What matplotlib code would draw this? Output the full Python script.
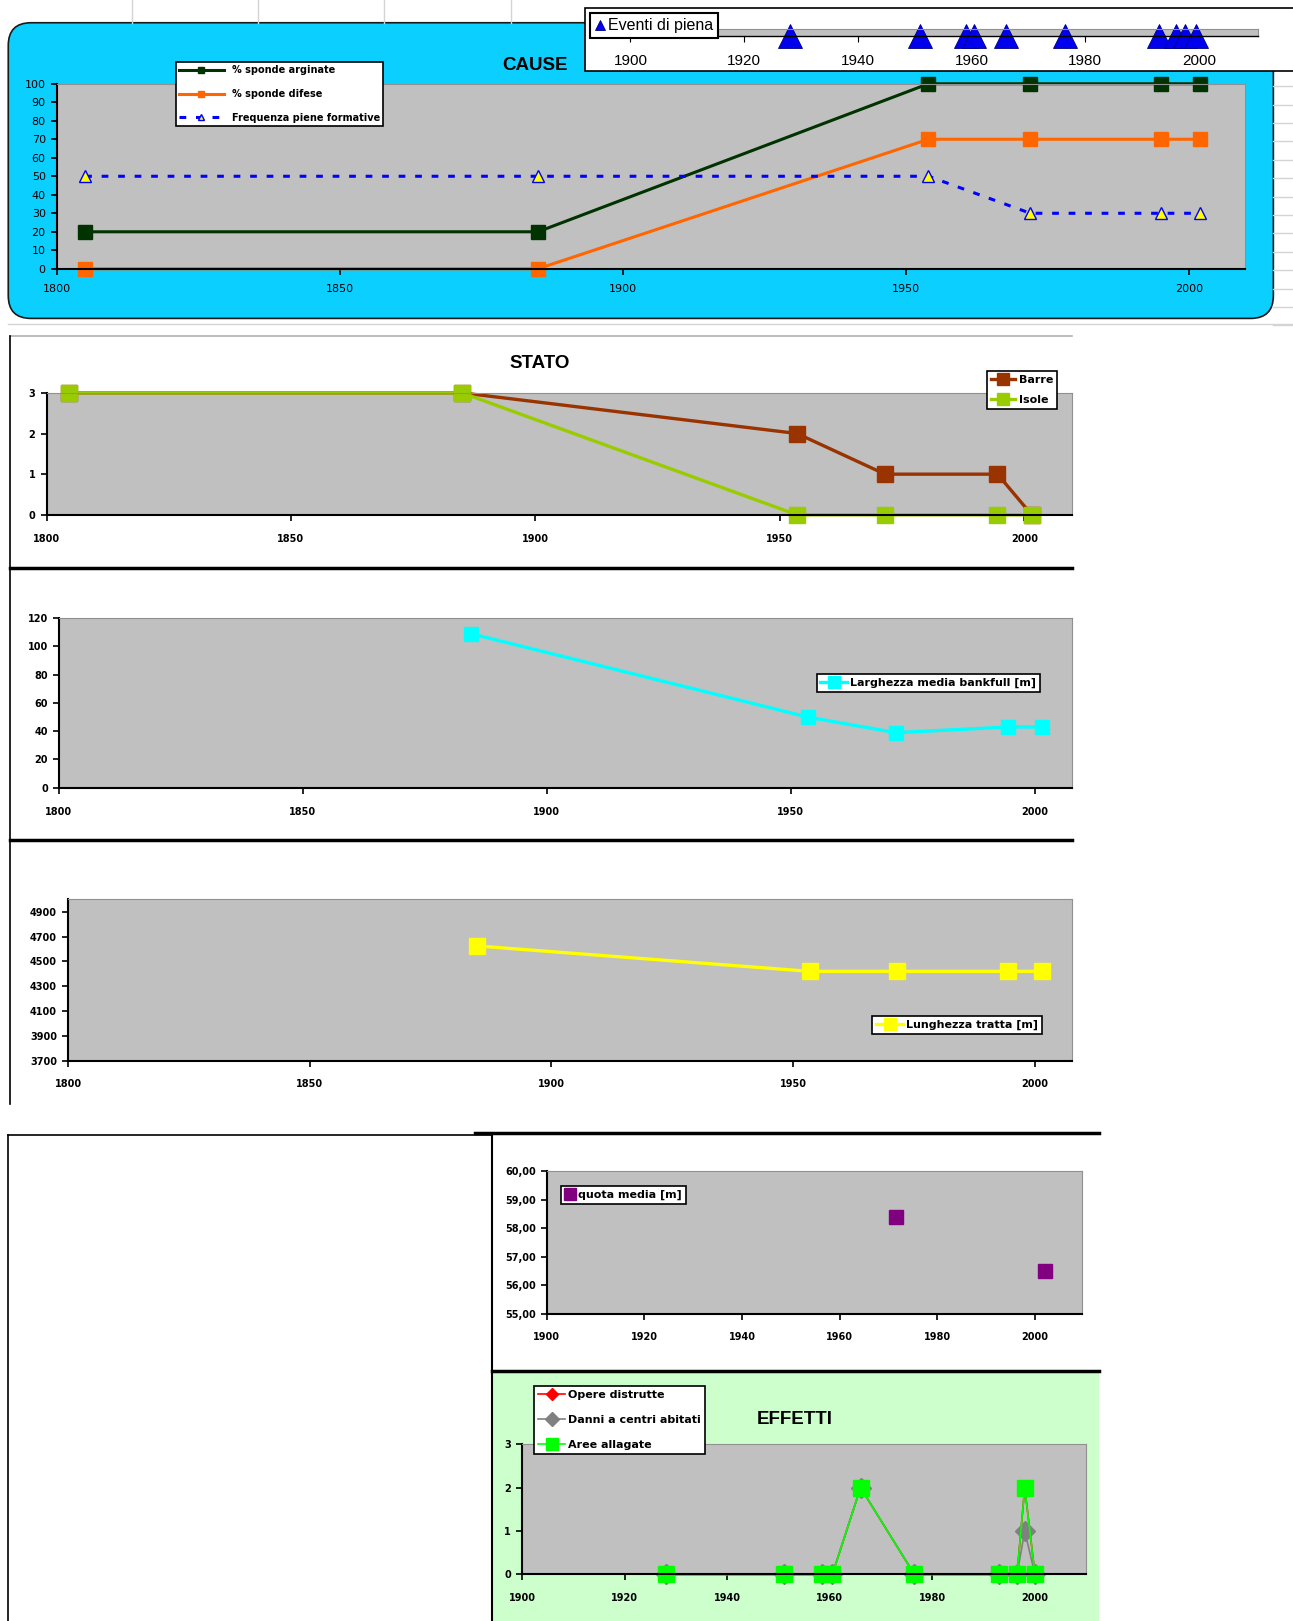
import numpy as np
import matplotlib
matplotlib.use('Agg')
import matplotlib.pyplot as plt
from matplotlib.patches import FancyBboxPatch, Rectangle
from matplotlib.ticker import FuncFormatter

# --- dati CAUSE ---
anni_cause = [1805, 1885, 1954, 1972, 1995, 2002]
sponde_arginate = [20, 20, 100, 100, 100, 100]
sponde_difese = [0, 0, 70, 70, 70, 70]
freq_piene = [50, 50, 50, 30, 30, 30]

# eventi di piena
anni_eventi = [1928, 1951, 1959, 1960.5, 1966, 1976.5, 1993, 1996, 1997.5, 1999.5]

# --- dati STATO ---
anni_stato = [1804.5, 1885, 1953.5, 1971.5, 1994.5, 2001.5]
barre = [3, 3, 2, 1, 1, 0]
isole = [3, 3, 0, 0, 0, 0]

anni_larg = [1884.5, 1953.5, 1971.5, 1994.5, 2001.5]
larghezza = [109, 50, 39, 43, 43]

anni_lung = [1884.5, 1953.5, 1971.5, 1994.5, 2001.5]
lunghezza = [4625, 4420, 4420, 4420, 4420]

anni_quota = [1971.5, 2002]
quota = [58.4, 56.5]

# --- dati EFFETTI ---
anni_eff = [1928, 1951, 1958.5, 1960.5, 1966, 1976.5, 1993, 1996.5, 1998, 2000]
opere = [0, 0, 0, 0, 2, 0, 0, 0, 2, 0]
danni = [0, 0, 0, 0, 2, 0, 0, 0, 1, 0]
aree = [0, 0, 0, 0, 2, 0, 0, 0, 2, 0]

W, H = 1251, 1568   # coordinate di riferimento (pixel)
GRIGIO = '#c0c0c0'
FT = 'DejaVu Sans'


def box(l, t, r, b):
    return [l / W, 1 - b / H, (r - l) / W, (b - t) / H]


def fig_pt(x, y):
    return (x / W, 1 - y / H)


def stile(ax, size=7, bold=True, xpad=9, ypad=4):
    ax.set_facecolor(GRIGIO)
    for s in ['top', 'right']:
        ax.spines[s].set_color('#909090')
        ax.spines[s].set_linewidth(0.8)
    for s in ['left', 'bottom']:
        ax.spines[s].set_color('black')
        ax.spines[s].set_linewidth(1.5)
    ax.tick_params(direction='out', length=4, width=1.2, labelsize=size)
    ax.tick_params(axis='x', pad=xpad)
    ax.tick_params(axis='y', pad=ypad)
    for lab in ax.get_xticklabels() + ax.get_yticklabels():
        lab.set_fontweight('bold' if bold else 'normal')
        lab.set_family(FT)


def legenda(ax, x, y, size=7, **kw):
    leg = ax.legend(loc='upper left', bbox_to_anchor=fig_pt(x, y),
                    bbox_transform=fig.transFigure, fancybox=False,
                    edgecolor='black', framealpha=1, borderpad=0.35,
                    borderaxespad=0, prop={'family': FT, 'weight': 'bold', 'size': size}, **kw)
    leg.get_frame().set_linewidth(1.2)
    return leg


fig = plt.figure(figsize=(12.93, 16.21), dpi=100)

# sfondo / cornici
bg = fig.add_axes([0, 0, 1, 1], zorder=0)
bg.set_xlim(0, W)
bg.set_ylim(H, 0)
bg.axis('off')

for x in [128, 250, 372, 494]:
    bg.plot([x, x], [0, 22], color='#d4d4d4', lw=1)
for y in np.arange(30, 320, 17.8):
    bg.plot([1232, W], [y, y], color='#d4d4d4', lw=1)
bg.plot([8, W], [313, 313], color='#d4d4d4', lw=1)

bg.add_patch(FancyBboxPatch((8, 22), 1224, 286, boxstyle='round,pad=0,rounding_size=22',
                            facecolor='#0acfff', edgecolor='#1a1a1a', lw=1.2, zorder=1))
bg.add_patch(Rectangle((566, 8), 700, 61, facecolor='white', edgecolor='black', lw=1.2, zorder=2))
bg.text(518, 63, 'CAUSE', ha='center', va='center', fontsize=13.5, fontweight='bold',
        family='Liberation Sans', zorder=3)

# pannello STATO
bg.plot([10, 1037], [325, 325], color='#b0b0b0', lw=1.2)
bg.plot([10, 10], [325, 1068], color='black', lw=1.2)
bg.plot([10, 1037], [549, 549], color='black', lw=2.5)
bg.plot([10, 1037], [813, 813], color='black', lw=2.5)
bg.text(522, 352, 'STATO', ha='center', va='center', fontsize=13.5, fontweight='bold',
        family='Liberation Sans')

# pannelli in basso
bg.plot([8, 476], [1098, 1098], color='black', lw=1.2)
bg.plot([8, 8], [1098, H], color='black', lw=1.2)
bg.plot([460, 1063], [1096, 1096], color='black', lw=2.5)
bg.plot([476, 476], [1096, H], color='black', lw=1.5)
bg.add_patch(Rectangle((477, 1327), 586, H - 1327, facecolor='#ccffcc', edgecolor='none'))
bg.plot([476, 1063], [1326, 1326], color='black', lw=2.5)
bg.text(769, 1373, 'EFFETTI', ha='center', va='center', fontsize=13.5, fontweight='bold',
        family='Liberation Sans')

# ---- CAUSE ----
ax = fig.add_axes(box(55, 81, 1205, 260), zorder=2)
ax.plot(anni_cause, sponde_arginate, color='#003300', lw=2.2, marker='s', ms=10,
        label='% sponde arginate', clip_on=False)
ax.plot(anni_cause, sponde_difese, color='#ff6600', lw=2.2, marker='s', ms=10,
        label='% sponde difese', clip_on=False)
ax.plot(anni_cause, freq_piene, color='#0000ff', lw=2.2, ls=(0, (2.2, 3.2)), marker='^', ms=8,
        mfc='#ffff00', mec='#0000ff', mew=1, label='Frequenza piene formative', clip_on=False)
ax.set_xlim(1800, 2010)
ax.set_ylim(0, 100)
ax.set_xticks([1800, 1850, 1900, 1950, 2000])
ax.set_yticks(range(0, 101, 10))
stile(ax, size=8, bold=False, xpad=7)
legenda(ax, 170, 60, size=7, handlelength=4.6, labelspacing=1.4, markerscale=0.5)

# ---- Eventi di piena ----
ev = fig.add_axes(box(582.5, 28, 1217, 35), zorder=3)
ev.set_facecolor(GRIGIO)
ev.plot(anni_eventi, np.zeros(len(anni_eventi)), ls='none', marker='^', ms=17,
        color='#0000ee', mec='#000080', mew=0.6, clip_on=False, label='Eventi di piena')
ev.set_xlim(1895, 2010.4)
ev.set_ylim(0, 1)
ev.set_yticks([])
ev.set_xticks(range(1900, 2001, 20))
for s in ['top', 'right', 'left']:
    ev.spines[s].set_color('#909090')
    ev.spines[s].set_linewidth(0.8)
ev.spines['bottom'].set_linewidth(1.0)
ev.tick_params(axis='x', length=4, pad=9, labelsize=11)
for lab in ev.get_xticklabels():
    lab.set_family('Liberation Sans')
leg = ev.legend(loc='upper left', bbox_to_anchor=fig_pt(571, 13), bbox_transform=fig.transFigure,
                fancybox=False, edgecolor='black', framealpha=1, borderpad=0.3, borderaxespad=0,
                handlelength=0.6, handletextpad=0.2, markerscale=0.45,
                prop={'family': 'Liberation Sans', 'size': 11.5})
leg.get_frame().set_linewidth(1.5)

# ---- STATO: barre / isole ----
ax = fig.add_axes(box(45, 380, 1037, 498), zorder=2)
ax.plot(anni_stato, barre, color='#993300', lw=2.4, marker='s', ms=11, label='Barre', clip_on=False)
ax.plot(anni_stato, isole, color='#99cc00', lw=2.4, marker='s', ms=11, label='Isole', clip_on=False)
ax.set_xlim(1800, 2009.7)
ax.set_ylim(0, 3)
ax.set_xticks([1800, 1850, 1900, 1950, 2000])
ax.set_yticks([0, 1, 2, 3])
stile(ax, xpad=10)
legenda(ax, 955, 359, size=8, handlelength=2.2, handletextpad=0.3, labelspacing=0.9,
        markerscale=0.75)

# ---- Larghezza ----
ax = fig.add_axes(box(57, 598, 1037, 762), zorder=2)
ax.plot(anni_larg, larghezza, color='#00ffff', lw=2.4, marker='s', ms=10,
        label='Larghezza media bankfull [m]', clip_on=False)
ax.set_xlim(1800, 2007.6)
ax.set_ylim(0, 120)
ax.set_xticks([1800, 1850, 1900, 1950, 2000])
ax.set_yticks(range(0, 121, 20))
stile(ax, xpad=10)
legenda(ax, 790, 652, size=8, handlelength=2.4, handletextpad=0.3, markerscale=0.8)

# ---- Lunghezza ----
ax = fig.add_axes(box(66, 870, 1037, 1026), zorder=2)
ax.plot(anni_lung, lunghezza, color='#ffff00', lw=2.4, marker='s', ms=11,
        label='Lunghezza tratta [m]', clip_on=False)
ax.set_xlim(1800, 2007.7)
ax.set_ylim(3700, 5000)
ax.set_xticks([1800, 1850, 1900, 1950, 2000])
ax.set_yticks(range(3700, 5000, 200))
stile(ax, xpad=9)
legenda(ax, 844, 983, size=8, handlelength=2.4, handletextpad=0.3, markerscale=0.75)

# ---- Quota media ----
ax = fig.add_axes(box(529, 1133, 1047, 1271), zorder=2)
ax.plot(anni_quota, quota, ls='none', marker='s', ms=10, color='#800080', label='quota media [m]')
ax.set_xlim(1900, 2009.7)
ax.set_ylim(55, 60)
ax.set_xticks(range(1900, 2001, 20))
ax.set_yticks(range(55, 61))
ax.yaxis.set_major_formatter(FuncFormatter(lambda v, p: f'{v:.2f}'.replace('.', ',')))
stile(ax, xpad=9)
legenda(ax, 543, 1147, size=8, handlelength=0.8, handletextpad=0.4, markerscale=0.8)

# ---- EFFETTI ----
ax = fig.add_axes(box(505, 1397, 1051, 1523), zorder=2)
ax.plot(anni_eff, opere, color='#ff0000', lw=1.2, marker='D', ms=8, label='Opere distrutte', clip_on=False)
ax.plot(anni_eff, danni, color='#808080', lw=1.2, marker='D', ms=10, label='Danni a centri abitati',
        clip_on=False)
ax.plot(anni_eff, aree, color='#00ff00', lw=1.2, marker='s', ms=11, label='Aree allagate', clip_on=False)
ax.set_xlim(1900, 2010)
ax.set_ylim(0, 3)
ax.set_xticks(range(1900, 2001, 20))
ax.set_yticks([0, 1, 2, 3])
stile(ax, xpad=9)
legenda(ax, 517, 1341, size=8, handlelength=2.4, handletextpad=0.3, labelspacing=1.35,
        markerscale=0.75)

fig.savefig('out.png', dpi=100, facecolor='white')
